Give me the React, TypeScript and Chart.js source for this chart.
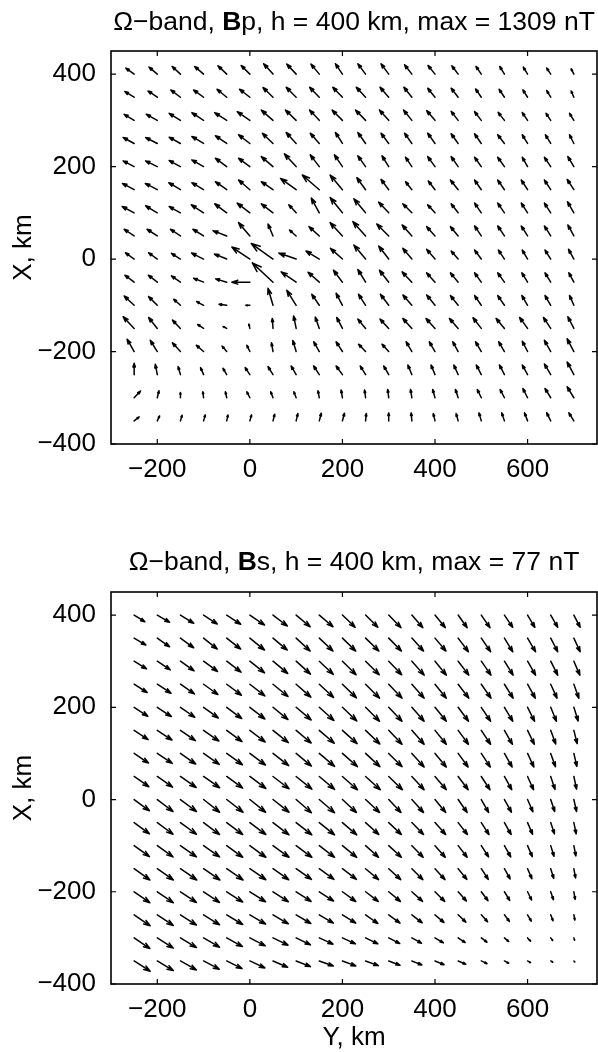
import React, { useEffect, useRef } from "react";
import { Chart, registerables } from "chart.js";

Chart.register(...registerables);

// Grid positions (km). Horizontal axis = Y, vertical axis = X.
const GRID_Y_KM = [-250, -200, -150, -100, -50, 0, 50, 100, 150, 200, 250, 300, 350, 400, 450, 500, 550, 600, 650, 700];
const GRID_X_KM = [400, 350, 300, 250, 200, 150, 100, 50, 0, -50, -100, -150, -200, -250, -300, -350];
const Y_TICKS = [-200, 0, 200, 400, 600];
const X_TICKS = [-400, -200, 0, 200, 400];

// Bp field, horizontal (Y) and vertical (X) components, one row per X (relative units)
const BP_H: number[][] = [
  [-8.3, -8.3, -8.3, -9, -8.7, -8.7, -9.3, -9.3, -8.3, -7, -7.7, -7.7, -7.3, -7, -6.3, -5.3, -4.7, -4.3, -4, -2.7],
  [-9.3, -9.3, -9.7, -10, -9.7, -10.3, -10, -10, -9.7, -9.7, -9.3, -8.7, -8, -7.3, -7, -5.7, -5.3, -4.7, -4, -2.7],
  [-10, -11, -11.3, -11.7, -12, -12.7, -11.7, -10.7, -9.7, -10.3, -10, -9.3, -8.3, -8.3, -7, -6.7, -6.3, -5.3, -4.7, -4.3],
  [-11, -11.7, -11.3, -11.7, -11.3, -11.3, -10.7, -10, -9, -7, -7.7, -7.7, -7.3, -7.3, -7, -6.7, -6.7, -5.3, -5.3, -4.3],
  [-11, -11.7, -11.3, -11.7, -11.3, -11.3, -11.7, -11.7, -9, -8, -7.7, -6.7, -6.3, -7.3, -7, -6.7, -6.7, -5.3, -6.3, -6],
  [-11.7, -12, -11.7, -11.7, -11.3, -11.3, -11.7, -15.7, -17, -12.3, -8.7, -7.7, -6.3, -6.7, -7.7, -6.7, -6.7, -6.3, -6.3, -6.7],
  [-12, -11.7, -11.3, -12.3, -12, -12.7, -11.7, -7.3, -8, -12.3, -11.7, -10, -9, -7.3, -7, -6.7, -6.7, -6.3, -6.3, -6.3],
  [-10, -10.3, -10, -10.7, -13.7, -11.3, -5, -6.7, -10.3, -12.3, -12.7, -12, -9.7, -8.3, -7.7, -6.7, -6.7, -6.3, -6.3, -6],
  [-8.7, -8.7, -9, -12, -12.3, -18, -21.7, -17.3, -13.3, -12, -11.7, -10, -9, -8.3, -7, -6.7, -6, -5.3, -5.7, -5.3],
  [-9.3, -9, -9, -10, -11, -18, -20.7, -15, -11.3, -9, -7.7, -9.3, -9.7, -8.3, -7.7, -6.7, -6.7, -5.7, -5.7, -5],
  [-10, -8.7, -6.7, -7, -7.7, -4, -5, -9.3, -7.5, -6.3, -7, -8.3, -9, -8.3, -7.7, -6.7, -6.7, -5.7, -5.7, -4.3],
  [-11, -8.7, -8, -6, -3.7, -1, -0.7, -2.5, -4, -5.7, -7.7, -8.7, -9, -9, -8.7, -8.3, -8.3, -8, -7.3, -6],
  [-7, -7, -8, -7.3, -4.7, -3, -1.5, -3.3, -5.5, -6.3, -7, -6.7, -5.7, -5.7, -5.3, -5.7, -5.7, -5.3, -6.3, -6.7],
  [0, -2, -2.3, -3, -3.7, -4.7, -5, -5, -5.7, -6.3, -5.3, -5, -4, -4, -4.3, -5, -5, -5.3, -6.3, -6.7],
  [6.3, 1.7, 0, -0.7, -1.3, -3, -2.3, -2.3, -1.3, -1.3, -1, -1, -1.3, -2.3, -2.7, -4, -4.3, -4.7, -5.7, -6.7],
  [5, 2.3, 1.7, 1.7, 1.3, 1.7, 1.7, 1.7, 2, 2, 0.7, 0, -0.7, -1.7, -2, -2.3, -2.7, -3, -4, -5],
];
const BP_V: number[][] = [
  [6, 7, 7.7, 7.7, 8.3, 8.7, 10.3, 10, 10, 10.3, 10.3, 10.3, 9.3, 8.7, 8.3, 7.7, 7.7, 7, 6, 5.3],
  [5.7, 6.3, 7.3, 7.3, 8, 8, 9.7, 10, 10, 10, 10, 10, 10, 9, 9, 8.3, 8, 7.3, 6.7, 6.3],
  [6, 6, 7, 7.7, 7.7, 8.7, 10.3, 10.3, 10.3, 10.3, 10.3, 10.3, 10.3, 9.7, 9, 8.7, 8, 7.7, 7, 7],
  [6, 6, 6.3, 7, 7.7, 8.7, 10.3, 11, 10.3, 11, 11, 10.3, 10.3, 10.3, 9.7, 9.7, 8.7, 8.7, 8.7, 8.7],
  [5.7, 5.7, 6, 6.7, 8.3, 8.3, 10, 12.7, 11.7, 11.7, 10.7, 10.7, 9.3, 10, 10, 9.3, 9.3, 9.3, 9.3, 10],
  [6.3, 6.3, 7, 7, 8, 9.7, 8, 11.3, 14.7, 14.7, 12, 10.3, 8, 8.7, 9.7, 9.7, 9.7, 9.7, 9.7, 10.3],
  [6.3, 7, 6.3, 8, 9, 9.7, 9, 8, 14.7, 15.3, 14, 10.7, 9, 8, 9, 9.7, 9.7, 9.7, 9.7, 11],
  [6.7, 6.7, 6.7, 6.7, 5.3, 13.3, 12, 6, 9.3, 13.3, 14.3, 12, 11, 9.3, 9.3, 10, 10, 10, 10, 11],
  [6.3, 6.3, 5.7, 6, 5, 12, 15.5, 6, 8, 10.7, 14, 13, 10.7, 9.7, 8, 9, 9, 9, 9, 9.7],
  [7, 7, 6.3, 4, 3.3, 0, 19.3, 10.3, 10, 12, 12.7, 12, 10.3, 9.3, 9.3, 9.3, 9.3, 9.3, 9.3, 9.3],
  [9.3, 8.7, 6, 3.7, 1, 0, 17, 15, 11, 12, 11, 11, 10.3, 10.3, 9.7, 9.7, 9.7, 9.7, 9.7, 9.7],
  [11.7, 11, 8.3, 4, 2, 4.3, 10, 12.5, 11.3, 11, 9.3, 9.3, 10, 10, 10, 10.7, 10, 11, 11, 11.7],
  [12.3, 11.3, 8.7, 6.3, 5.5, 6.3, 8.7, 11, 9.7, 9.7, 7.3, 7.3, 9.7, 9.7, 9.7, 9.7, 9.7, 10.3, 11.3, 12.7],
  [11.3, 10.3, 8, 7, 6.3, 7, 8, 8.7, 8.7, 8.7, 8.7, 8.7, 9.7, 9.7, 9.7, 9.7, 9.7, 9.7, 10.7, 12.7],
  [6.7, 7, 5.3, 6, 6, 6, 6, 6, 7, 7.7, 7.7, 8.3, 8.3, 8.3, 8.3, 8.3, 8.3, 9.3, 9.3, 11],
  [4, 5, 5.7, 6, 6, 6, 6.7, 7.3, 7.7, 7.7, 7.3, 8, 8, 7.3, 7.3, 8, 8, 8, 8, 8],
];

// Bs field
const BS_H: number[][] = [
  [10.7, 12.3, 13.3, 13.7, 14, 14.7, 14.3, 14, 13.7, 12.7, 12.3, 12.3, 11, 10.3, 9, 8.7, 8.3, 7.3, 7, 6.3],
  [11.7, 12.3, 13.3, 13.7, 14, 14.7, 14.3, 14, 13.7, 13.3, 13.3, 12.7, 11.7, 11, 10.3, 9.3, 8.3, 8, 7, 6.3],
  [12.3, 13, 13.7, 14, 14.3, 14.7, 14.7, 14.3, 14, 13.7, 13.7, 13, 12.3, 11.3, 10.7, 9.7, 8.7, 8, 7, 6],
  [13, 13.7, 14, 14.3, 14.7, 15, 15, 14.7, 14.3, 14, 14, 13.3, 12.3, 11.3, 10.7, 9.7, 8.7, 7.7, 6.3, 5],
  [13.7, 14, 14.3, 14.7, 15, 15, 15, 15, 14.7, 14.3, 14, 13.3, 12.3, 11.3, 10.3, 9.3, 8.3, 7, 5.7, 4.3],
  [14, 14.7, 15, 15.3, 15.3, 15.3, 15.3, 15, 15, 14.7, 14.3, 13.3, 12.3, 11.3, 10.3, 9.3, 8, 6.7, 5, 3.3],
  [14.3, 15, 15.3, 15.7, 15.7, 15.7, 15.7, 15.3, 15.3, 15, 14.3, 13.3, 12.3, 11.3, 10, 9, 7.7, 6.3, 4.7, 3],
  [14.7, 15.3, 15.7, 16, 16, 16, 16, 15.7, 15.3, 15, 14.7, 13.7, 12.3, 11.3, 10, 8.7, 7.3, 6, 4.3, 2.7],
  [15.3, 15.7, 16, 16, 16.3, 15.7, 16, 15.3, 15.3, 14, 14, 12.3, 11.7, 10.7, 9, 7.3, 7, 5.3, 4, 2.7],
  [15.3, 15.7, 16, 16, 16, 16, 16, 15.7, 15.3, 14.3, 13.3, 12.7, 11.7, 10.7, 9.3, 7.7, 6.7, 5, 3.7, 2.3],
  [15.3, 15.7, 16, 16, 16, 16, 16, 15.7, 15.3, 14.3, 13, 12.7, 11.3, 10.3, 9, 7.3, 6.3, 4.7, 3.3, 2],
  [15.7, 16, 16.3, 16.3, 16.3, 16, 15.7, 15.3, 14.7, 14, 13, 12, 11, 10, 8.7, 7, 5.7, 4.3, 3, 1.7],
  [15.7, 16, 16, 16, 16, 15.7, 15.3, 15, 14.3, 13.3, 12.7, 11.7, 10.7, 9.7, 8.3, 6.7, 5.3, 4, 2.7, 1.3],
  [16, 16, 16, 16, 16, 15.7, 15.3, 14.7, 14, 13.3, 12.3, 11.3, 10.3, 9, 7.7, 6.3, 5, 3.7, 2.3, 1],
  [15.7, 16, 16, 16, 15.7, 15.3, 15, 14.3, 13.7, 13, 12.3, 11, 9.7, 8.3, 7, 5.7, 4.3, 3, 2, 0.7],
  [16, 16, 16, 15.7, 15.3, 15, 14.7, 14.3, 14, 13.3, 12.7, 11.3, 10, 9, 7.7, 5.7, 4.3, 3, 2, 1],
];
const BS_V: number[][] = [
  [-6.7, -7.3, -8.3, -9, -9.3, -10, -11, -11.7, -11.7, -12.3, -12.3, -12.7, -12.7, -12.7, -12.7, -12.7, -12.3, -12.3, -12.3, -12.3],
  [-7, -8.7, -9.7, -11, -11, -12, -12, -13, -13, -13, -13, -13, -13, -13, -13.7, -13.7, -13.7, -13.7, -13.7, -13.7],
  [-7.7, -8.7, -9.7, -10.3, -11, -11.7, -12.3, -13, -13.3, -13.7, -13.7, -13.7, -14, -14, -14, -14, -14, -14, -14, -14],
  [-8.3, -9, -9.7, -10.3, -11, -11.7, -12.3, -13, -13.3, -13.7, -14, -14, -14, -14, -14, -14, -14, -14, -14, -14],
  [-9, -9.3, -10, -10.7, -11.3, -11.7, -12.3, -12.7, -13.3, -13.7, -14, -14, -14, -14, -14, -14, -14, -14, -14, -13.7],
  [-9.3, -9.7, -10.3, -10.7, -11.3, -11.7, -12.3, -12.7, -13, -13.3, -13.7, -14, -14, -14, -14, -14, -14, -14, -13.7, -13.3],
  [-9.7, -10, -10.7, -11, -11.3, -11.7, -12.3, -12.7, -13, -13.3, -13.3, -13.3, -13.7, -13.7, -13.7, -13.7, -13.7, -13.7, -13.3, -13],
  [-10.3, -10.7, -11, -11.3, -11.7, -12, -12.3, -12.7, -13, -13.3, -13.3, -13.3, -13.3, -13.3, -13.3, -13.3, -13.3, -13.3, -13, -12.7],
  [-11.3, -12, -12, -12.7, -12.7, -12.7, -12.7, -13.3, -13.3, -13, -13, -13, -13, -13, -13, -13, -12.7, -12.3, -12, -12],
  [-11.3, -11.7, -11.7, -12, -12, -12, -12.3, -12.3, -12.3, -12.3, -12, -12, -12, -12, -12, -12, -12, -11.7, -11.3, -11.3],
  [-11, -11.3, -11.3, -11.3, -11.7, -11.7, -11.7, -11.7, -11.7, -11.7, -11.7, -11.7, -11.7, -11.7, -11.7, -11.3, -11.3, -11, -10.7, -10.3],
  [-11.3, -11.3, -11.3, -11.3, -11.3, -11, -11, -10.7, -10.7, -10.7, -11, -11, -11, -11, -10.7, -10.7, -10.3, -10, -9.7, -9.3],
  [-11, -11, -10.7, -10.7, -10.3, -10, -10, -9.7, -9.3, -9.7, -9.7, -9.7, -9.7, -9.7, -9.3, -9, -8.7, -8.3, -8, -7.7],
  [-11, -10.7, -10.3, -10, -9.7, -9.3, -9, -8.7, -8.3, -8.3, -8.7, -8.3, -8, -7.7, -7.3, -7, -6.7, -6.3, -6, -5.3],
  [-10.7, -10.3, -9.7, -9.3, -8.7, -8, -7.3, -7, -6.3, -6, -6, -5.7, -5.3, -5, -4.7, -4.3, -3.7, -3.3, -2.7, -2.3],
  [-10.3, -9.7, -9, -8.3, -7.7, -7, -6.3, -5.7, -5, -5, -4.7, -4.3, -4, -3.7, -3.3, -2.7, -2.3, -1.7, -1.3, -1],
];

const FAM = '"Liberation Sans", Arial, Helvetica, sans-serif';
const FONT_SIZE = 26;
const TITLE_SIZE = 26.5;
const KM_PER_UNIT = 2.16;

const fmt = (v: number) => (v < 0 ? "\u2212" + Math.abs(v) : String(v));

type PanelProps = {
  top: number;
  height: number;
  frameTop: number;
  frameBottom: number;
  titleBase: number;
  comp: string;
  maxText: string;
  H: number[][];
  V: number[][];
  xLabelBase: number | null;
};

function QuiverPanel(p: PanelProps) {
  const ref = useRef<HTMLCanvasElement>(null);
  useEffect(() => {
    const canvas = ref.current;
    if (!canvas) return;
    const pts: { x: number; y: number; h: number; v: number }[] = [];
    GRID_X_KM.forEach((gx, r) => {
      GRID_Y_KM.forEach((gy, c) => {
        pts.push({ x: gy, y: gx, h: p.H[r][c], v: p.V[r][c] });
      });
    });

    const quiver = {
      id: "quiverDraw",
      afterDatasetsDraw(chart: any) {
        const ctx = chart.ctx as CanvasRenderingContext2D;
        const xs = chart.scales.x;
        const ys = chart.scales.y;
        ctx.save();
        ctx.strokeStyle = "#000";
        ctx.lineWidth = 1.5;
        ctx.lineCap = "round";
        ctx.lineJoin = "round";
        const a = 0.33;
        const b = 0.33;
        for (const d of pts) {
          const x0 = xs.getPixelForValue(d.x);
          const y0 = ys.getPixelForValue(d.y);
          const x1 = xs.getPixelForValue(d.x + d.h * KM_PER_UNIT);
          const y1 = ys.getPixelForValue(d.y + d.v * KM_PER_UNIT);
          const du = x1 - x0;
          const dv = y1 - y0;
          ctx.beginPath();
          ctx.moveTo(x0, y0);
          ctx.lineTo(x1, y1);
          ctx.moveTo(x1 - a * (du + b * dv), y1 - a * (dv - b * du));
          ctx.lineTo(x1, y1);
          ctx.lineTo(x1 - a * (du - b * dv), y1 - a * (dv + b * du));
          ctx.stroke();
        }
        ctx.restore();
      },
      afterDraw(chart: any) {
        const ctx = chart.ctx as CanvasRenderingContext2D;
        const { left, right, top, bottom } = chart.chartArea;
        const xs = chart.scales.x;
        const ys = chart.scales.y;
        ctx.save();
        ctx.strokeStyle = "#000";
        ctx.lineWidth = 1.6;
        ctx.strokeRect(left, top, right - left, bottom - top);
        ctx.lineWidth = 1.2;
        const tl = 5;
        ctx.beginPath();
        for (const v of Y_TICKS) {
          const px = xs.getPixelForValue(v);
          ctx.moveTo(px, bottom);
          ctx.lineTo(px, bottom - tl);
          ctx.moveTo(px, top);
          ctx.lineTo(px, top + tl);
        }
        for (const v of X_TICKS) {
          const py = ys.getPixelForValue(v);
          ctx.moveTo(left, py);
          ctx.lineTo(left + tl, py);
          ctx.moveTo(right, py);
          ctx.lineTo(right - tl, py);
        }
        ctx.stroke();

        // title
        ctx.fillStyle = "#000";
        ctx.textBaseline = "alphabetic";
        const parts = [
          { t: "\u03A9\u2212band, ", bold: false },
          { t: "B", bold: true },
          { t: p.comp + ", h = 400 km, max = " + p.maxText + " nT", bold: false },
        ];
        let total = 0;
        const widths = parts.map((pt) => {
          ctx.font = (pt.bold ? "bold " : "") + TITLE_SIZE + "px " + FAM;
          const w = ctx.measureText(pt.t).width;
          total += w;
          return w;
        });
        let cx = (left + right) / 2 - total / 2;
        parts.forEach((pt, i) => {
          ctx.font = (pt.bold ? "bold " : "") + TITLE_SIZE + "px " + FAM;
          ctx.textAlign = "left";
          ctx.fillText(pt.t, cx, p.titleBase);
          cx += widths[i];
        });

        // y-axis label (X, km)
        ctx.font = FONT_SIZE + "px " + FAM;
        ctx.save();
        ctx.translate(31, (top + bottom) / 2);
        ctx.rotate(-Math.PI / 2);
        ctx.textAlign = "center";
        ctx.fillText("X, km", 0, 0);
        ctx.restore();

        if (p.xLabelBase !== null) {
          ctx.textAlign = "center";
          ctx.fillText("Y, km", (left + right) / 2, p.xLabelBase);
        }
        ctx.restore();
      },
    };

    const tickFont = { family: FAM, size: FONT_SIZE };
    const chart = new Chart(canvas, {
      type: "scatter",
      data: {
        datasets: [
          {
            data: pts as any,
            pointRadius: 0,
            pointHoverRadius: 0,
            showLine: false,
          },
        ],
      },
      options: {
        responsive: false,
        animation: false,
        devicePixelRatio: 1,
        events: [],
        layout: { padding: { top: p.frameTop, right: 1, left: 0, bottom: 0 } },
        plugins: { legend: { display: false }, tooltip: { enabled: false } },
        scales: {
          x: {
            type: "linear",
            position: "bottom",
            min: -300,
            max: 750,
            grid: { display: false },
            border: { display: false },
            ticks: { font: tickFont, color: "#000", padding: 2, maxRotation: 0, callback: (v: any) => fmt(Number(v)) },
            afterBuildTicks: (s: any) => {
              s.ticks = Y_TICKS.map((v) => ({ value: v }));
            },
            afterFit: (s: any) => {
              s.height = p.height - p.frameBottom;
            },
          },
          y: {
            type: "linear",
            position: "left",
            min: -400,
            max: 450,
            grid: { display: false },
            border: { display: false },
            ticks: { font: tickFont, color: "#000", padding: 7, callback: (v: any) => fmt(Number(v)) },
            afterBuildTicks: (s: any) => {
              s.ticks = X_TICKS.map((v) => ({ value: v }));
            },
            afterFit: (s: any) => {
              s.width = 111;
            },
          },
        },
      },
      plugins: [quiver],
    });
    return () => chart.destroy();
  }, []);
  return (
    <canvas
      ref={ref}
      width={598}
      height={p.height}
      style={{ position: "absolute", left: 0, top: p.top, width: 598, height: p.height, display: "block" }}
    />
  );
}

export default function App() {
  return (
    <div style={{ position: "absolute", left: 0, top: 0, width: 598, height: 1052, background: "#fff", overflow: "hidden" }}>
      <QuiverPanel top={0} height={520} frameTop={51} frameBottom={444} titleBase={30} comp="p" maxText="1309" H={BP_H} V={BP_V} xLabelBase={null} />
      <QuiverPanel top={520} height={532} frameTop={72} frameBottom={464} titleBase={50} comp="s" maxText="77" H={BS_H} V={BS_V} xLabelBase={525} />
    </div>
  );
}
